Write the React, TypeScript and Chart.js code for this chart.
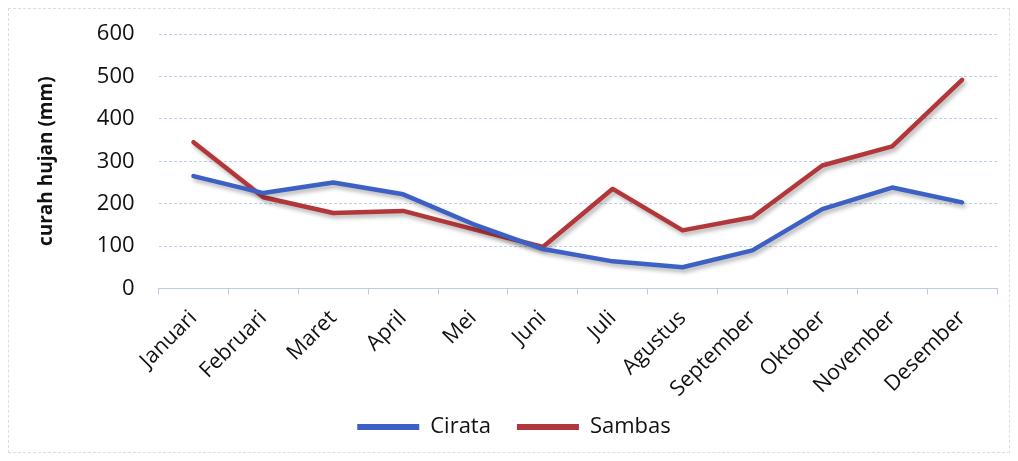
import React, { useEffect, useRef } from "react";
import { Chart, registerables } from "chart.js";

Chart.register(...registerables);

const months = ["Januari", "Februari", "Maret", "April", "Mei", "Juni", "Juli", "Agustus", "September", "Oktober", "November", "Desember"];
const cirata = [265, 225, 250, 222, 152, 93, 64, 50, 90, 187, 238, 203];
const sambas = [345, 215, 178, 183, 140, 98, 235, 137, 168, 290, 335, 492];
const yTicks = [0, 100, 200, 300, 400, 500, 600];

const BLUE = "#3d60c4";
const RED = "#b2373b";
const FONT = "'Open Sans', sans-serif";
const X_SHRINK = 23;

const shadowPlugin = {
  id: "lineShadow",
  beforeDatasetsDraw(chart: any) {
    const ctx = chart.ctx;
    ctx.save();
    ctx.shadowColor = "rgba(0,0,0,0.3)";
    ctx.shadowBlur = 4;
    ctx.shadowOffsetX = 2;
    ctx.shadowOffsetY = 3;
  },
  afterDatasetsDraw(chart: any) {
    chart.ctx.restore();
  },
};

// let the rotated x labels draw past the shrunken axis box (no clipping)
const labelRoomPlugin = {
  id: "labelRoom",
  afterLayout(chart: any) {
    const x = chart.scales.x;
    if (x) x.bottom += X_SHRINK;
  },
};

export default function App() {
  const ref = useRef<HTMLCanvasElement>(null);
  useEffect(() => {
    if (!ref.current) return;
    const chart = new Chart(ref.current, {
      type: "line",
      data: {
        labels: months,
        datasets: [
          { label: "Cirata", data: cirata, borderColor: BLUE, backgroundColor: BLUE, borderWidth: 4.5, pointRadius: 0, tension: 0, borderCapStyle: "round", borderJoinStyle: "round" },
          { label: "Sambas", data: sambas, borderColor: RED, backgroundColor: RED, borderWidth: 4.5, pointRadius: 0, tension: 0, borderCapStyle: "round", borderJoinStyle: "round" },
        ],
      },
      options: {
        animation: false,
        responsive: true,
        maintainAspectRatio: false,
        layout: { padding: { top: 25, right: 12, left: 22, bottom: 4 } },
        plugins: {
          tooltip: { enabled: false },
          legend: {
            position: "bottom",
            labels: {
              font: { family: FONT, size: 22 },
              color: "#111",
              boxWidth: 62,
              boxHeight: 6,
              padding: 26,
              generateLabels(chart: any) {
                const items = Chart.defaults.plugins.legend.labels.generateLabels(chart);
                return items.map((it: any) => ({ ...it, lineWidth: 0 }));
              },
            },
          },
        },
        scales: {
          x: {
            offset: true,
            afterFit(axis: any) {
              axis.height -= X_SHRINK;
            },
            grid: { display: true, drawOnChartArea: false, drawTicks: true, tickLength: 6, color: "#b9cde6", offset: true },
            border: { display: true, color: "#b9cde6", width: 1 },
            ticks: { font: { family: FONT, size: 21.5 }, color: "#111", maxRotation: 45, minRotation: 45, padding: 11, autoSkip: false },
          },
          y: {
            min: 0,
            max: 600,
            afterBuildTicks(axis: any) {
              axis.ticks = yTicks.map((v) => ({ value: v }));
            },
            afterFit(axis: any) {
              axis.paddingTop = 0;
              axis.paddingBottom = 0;
            },
            grid: { color: "#bdd0ea", drawTicks: false },
            border: { display: false, dash: [3, 2] },
            ticks: { font: { family: FONT, size: 22 }, color: "#111", padding: 24 },
            title: { display: true, text: "curah hujan (mm)", font: { family: FONT, size: 19, weight: "bold" }, color: "#111", padding: { bottom: 15 } },
          },
        },
      },
      plugins: [shadowPlugin, labelRoomPlugin],
    });
    return () => chart.destroy();
  }, []);
  return (
    <div style={{ position: "relative", width: 1002, height: 445, boxSizing: "border-box", border: "1px dashed #d5e0ee" }}>
      <canvas ref={ref} />
    </div>
  );
}
